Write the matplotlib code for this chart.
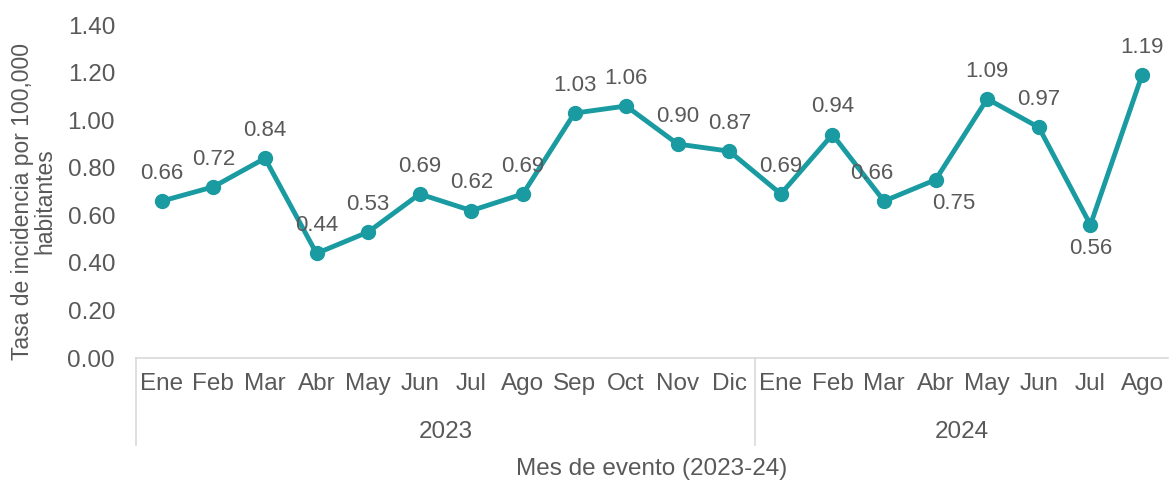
import matplotlib.pyplot as plt
import matplotlib.transforms as mtransforms

plt.rcParams['font.family'] = ['Liberation Sans', 'DejaVu Sans']

months = ['Ene', 'Feb', 'Mar', 'Abr', 'May', 'Jun', 'Jul', 'Ago', 'Sep', 'Oct', 'Nov', 'Dic',
          'Ene', 'Feb', 'Mar', 'Abr', 'May', 'Jun', 'Jul', 'Ago']
years = ['2023', '2024']
year_counts = [12, 8]
rates = [0.66, 0.72, 0.84, 0.44, 0.53, 0.69, 0.62, 0.69, 1.03, 1.06, 0.90, 0.87,
         0.69, 0.94, 0.66, 0.75, 1.09, 0.97, 0.56, 1.19]
# labels placed under the point
below = [15, 18]

LINE = '#1A9BA1'
TEXT = '#595959'
GRID = '#D9D9D9'
FS = 17.5

fig = plt.figure(figsize=(11.69, 4.84), dpi=100)
ax = fig.add_axes([0.1163, 0.2603, 0.8827, 0.6877])

x = list(range(len(rates)))
ax.plot(x, rates, color=LINE, lw=3.5, marker='o', ms=10, zorder=3)

for i, v in enumerate(rates):
    dx = 0
    if i == 14:
        dx = -9
    if i == 15:
        dx = 13
    dy = -17 if i in below else 20
    ax.annotate('%.2f' % v, (i, v), xytext=(dx, dy), textcoords='offset points',
                ha='center', va='center', fontsize=16, color=TEXT)

ax.set_xlim(-0.5, len(rates) - 0.5)
ax.set_ylim(0, 1.4)
ax.set_yticks([0, 0.2, 0.4, 0.6, 0.8, 1.0, 1.2, 1.4])
ax.set_yticklabels(['%.2f' % t for t in ax.get_yticks()])
ax.set_xticks(x)
ax.set_xticklabels(months)
ax.tick_params(axis='both', length=0, labelsize=FS, labelcolor=TEXT)
ax.tick_params(axis='x', pad=11)
ax.tick_params(axis='y', pad=15)

for s in ['top', 'right', 'left']:
    ax.spines[s].set_visible(False)
ax.spines['bottom'].set_color(GRID)
ax.spines['bottom'].set_linewidth(1.2)

# year groups under the month labels
trans = mtransforms.blended_transform_factory(ax.transData, ax.transAxes)
start = -0.5
bounds = [start]
for name, n in zip(years, year_counts):
    ax.text(start + n / 2, -0.222, name, transform=trans, ha='center', va='center',
            fontsize=FS, color=TEXT)
    start += n
    bounds.append(start)
for b in bounds[:-1]:
    ax.plot([b, b], [0, -0.26], transform=trans, color=GRID, lw=1.2, clip_on=False)

ax.set_xlabel('Mes de evento (2023-24)', fontsize=FS, color=TEXT)
ax.xaxis.set_label_coords(0.5, -0.30)
ax.set_ylabel('Tasa de incidencia por 100,000\nhabitantes', fontsize=16.5, color=TEXT,
              linespacing=0.95)
ax.yaxis.set_label_coords(-0.077, 0.47)

fig.savefig('out.png', dpi=100)
